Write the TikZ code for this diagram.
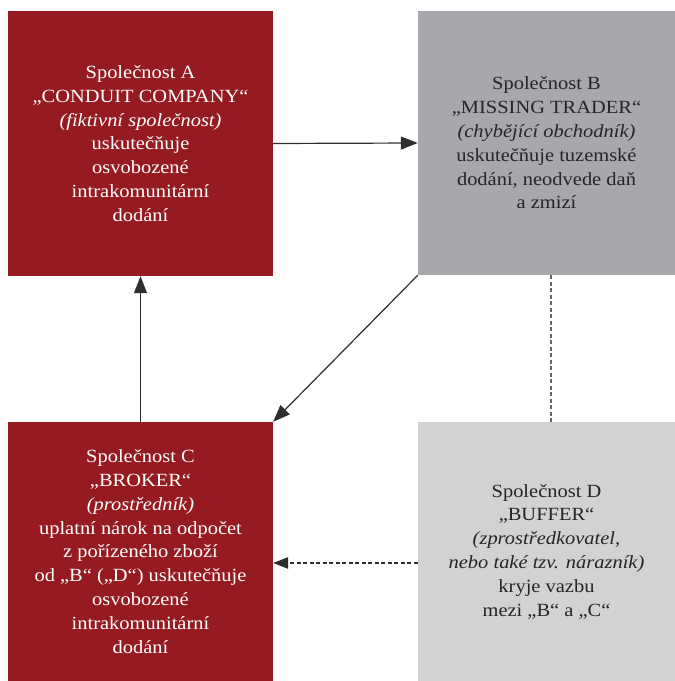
\documentclass[tikz,border=0pt]{standalone}
\usepackage{fontspec}
\setmainfont{Liberation Serif}[FakeStretch=1.1]
\usetikzlibrary{arrows.meta}
\definecolor{boxred}{HTML}{951B21}
\definecolor{boxgray}{HTML}{A7A8AB}
\definecolor{boxlight}{HTML}{D1D2D4}
\definecolor{txtdark}{HTML}{262425}
\definecolor{linedark}{HTML}{2E2E2E}
\tikzset{
  company/.style={rectangle, inner sep=0pt, minimum width=265pt, minimum height=265pt, align=center,
    font=\fontsize{18.6}{23.8}\selectfont},
  redbox/.style={company, fill=boxred, text=white},
  graybox/.style={company, fill=boxgray, text=txtdark},
  lightbox/.style={company, fill=boxlight, text=txtdark, minimum width=257pt, minimum height=259pt},
  flow/.style={draw=linedark, line width=1.2pt, -{Triangle[length=17pt,width=13pt]}},
  dashflow/.style={draw=linedark, line width=1.1pt, dash pattern=on 4pt off 2.5pt, -{Triangle[length=15pt,width=11.5pt]}},
  dashlink/.style={draw=gray!80!black, line width=1.3pt, dash pattern=on 4pt off 2.5pt}
}
\begin{document}
\begin{tikzpicture}[x=1pt,y=1pt]
\useasboundingbox (0,0) rectangle (675,681);
\node[redbox] (A) at (140.5,537.5) {Společnost A\\„CONDUIT COMPANY“\\\textit{(fiktivní společnost)}\\uskutečňuje\\osvobozené\\intrakomunitární\\dodání};
\node[graybox, minimum width=257pt, minimum height=264pt] (B) at (546.5,538) {Společnost B\\„MISSING TRADER“\\\textit{(chybějící obchodník)}\\uskutečňuje tuzemské\\dodání, neodvede daň\\a zmizí};
\node[redbox, minimum height=259pt] (C) at (140.5,129.5) {Společnost C\\„BROKER“\\\textit{(prostředník)}\\uplatní nárok na odpočet\\z pořízeného zboží\\od „B“ („D“) uskutečňuje\\osvobozené\\intrakomunitární\\dodání};
\node[lightbox] (D) at (546.5,129.5) {Společnost D\\„BUFFER“\\\textit{(zprostředkovatel,}\\\textit{nebo také tzv. nárazník)}\\kryje vazbu\\mezi „B“ a „C“};
\draw[flow] (A.east) -- (B.west);
\draw[flow] (C.north) -- (A.south);
\draw[flow] (B.south west) -- (C.north east);
\draw[dashflow] ([yshift=-11.5pt]D.west) -- ([yshift=-11.5pt]C.east);
\draw[dashlink] ([xshift=4.5pt]B.south) -- ([xshift=4.5pt]D.north);
\end{tikzpicture}
\end{document}
